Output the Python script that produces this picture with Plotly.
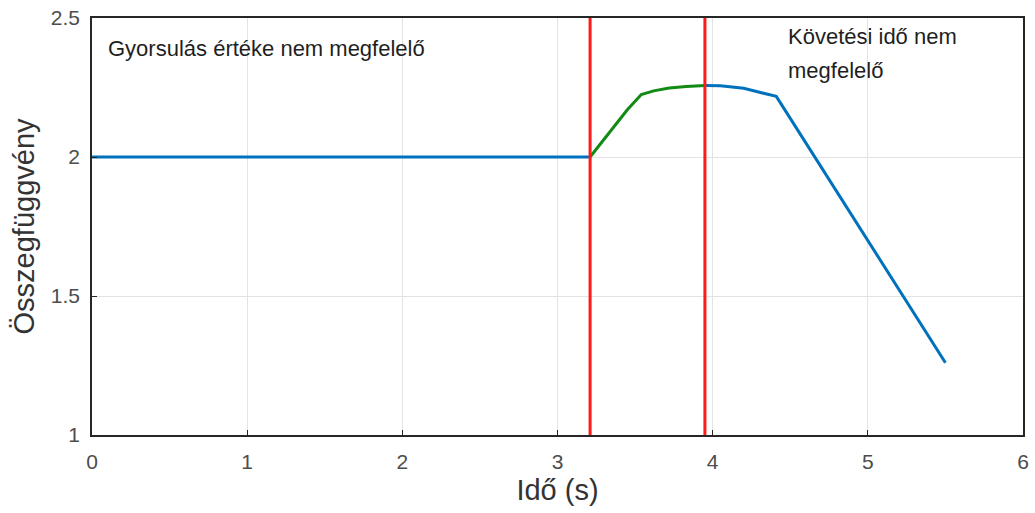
import plotly.graph_objects as go

# Cost function over time, in three phases
t_flat = [0.0, 3.21]
j_flat = [2.0, 2.0]

t_green = [3.21, 3.35, 3.45, 3.54, 3.62, 3.72, 3.83, 3.95]
j_green = [2.0, 2.10, 2.17, 2.225, 2.238, 2.248, 2.254, 2.257]

t_tail = [3.95, 4.05, 4.20, 4.41, 5.50]
j_tail = [2.257, 2.256, 2.247, 2.218, 1.26]

# Phase boundaries (vertical markers)
t_marks = [3.21, 3.95]

x_ticks = [0, 1, 2, 3, 4, 5, 6]
y_ticks = [1, 1.5, 2, 2.5]

BLUE = "#0072BD"
GREEN = "#138A13"
RED = "#FF1A1A"
FONT = "Liberation Sans, Arial, sans-serif"
NOTE_FONT = dict(family=FONT, size=22, color="#1f1f1f")
TICK_FONT = dict(family=FONT, size=21, color="#4D4D4D")

fig = go.Figure()
fig.add_trace(go.Scatter(x=t_flat, y=j_flat, mode="lines",
                         line=dict(color=BLUE, width=3), showlegend=False))
fig.add_trace(go.Scatter(x=t_green, y=j_green, mode="lines",
                         line=dict(color=GREEN, width=3), showlegend=False))
fig.add_trace(go.Scatter(x=t_tail, y=j_tail, mode="lines",
                         line=dict(color=BLUE, width=3), showlegend=False))
for tm in t_marks:
    fig.add_trace(go.Scatter(x=[tm, tm], y=[1, 2.5], mode="lines",
                             line=dict(color=RED, width=3), showlegend=False))

fig.add_annotation(x=0.09, y=2.392, xref="x", yref="y", xanchor="left", yanchor="middle",
                   text="Gyorsulás értéke nem megfelelő", showarrow=False, font=NOTE_FONT)
for line_text, ypos in [("Követési idő nem", 2.435), ("megfelelő", 2.31)]:
    fig.add_annotation(x=4.47, y=ypos, xref="x", yref="y", xanchor="left", yanchor="middle",
                       text=line_text, showarrow=False, font=NOTE_FONT)

axis_common = dict(
    showgrid=True, gridcolor="#E3E3E3", gridwidth=1,
    showline=True, linecolor="#262626", linewidth=1.5, mirror=True,
    ticks="inside", ticklen=5, tickcolor="#262626",
    zeroline=False,
)

fig.update_layout(
    width=1035, height=513,
    margin=dict(l=92, r=6, t=17, b=78),
    paper_bgcolor="white", plot_bgcolor="white",
    font=dict(family=FONT),
    xaxis=dict(range=[0, 6], tickvals=x_ticks, ticklabelstandoff=7,
               title=dict(text="Idő (s)", font=dict(family=FONT, size=29, color="#333333"),
                          standoff=8),
               **axis_common),
    yaxis=dict(range=[1, 2.5], tickvals=y_ticks, ticktext=["1", "1.5", "2", "2.5"],
               ticklabelstandoff=6,
               title=dict(text="Összegfüggvény", font=dict(family=FONT, size=29, color="#333333"),
                          standoff=8),
               **axis_common),
)
fig.update_xaxes(tickfont=TICK_FONT)
fig.update_yaxes(tickfont=TICK_FONT)

fig.write_html("out.html")
